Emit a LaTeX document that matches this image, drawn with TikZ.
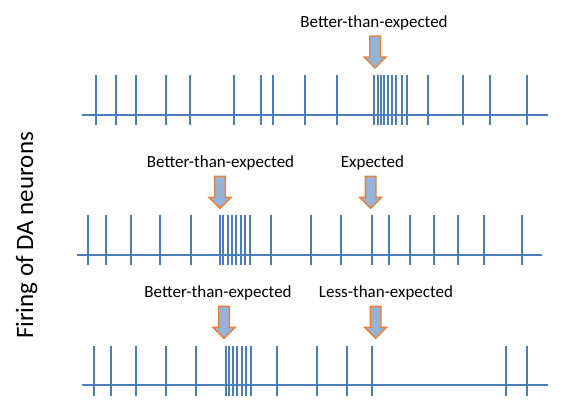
\documentclass[tikz,border=0pt]{standalone}
\usepackage{fontspec}
\setmainfont{Carlito}
\definecolor{spikeblue}{HTML}{4A7EBB}
\definecolor{arrowfill}{HTML}{95B3D7}
\definecolor{arroworange}{HTML}{ED7D31}
\tikzset{
  axisline/.style={spikeblue, line width=2.6pt},
  spike/.style={spikeblue, line width=1.8pt},
  arrowshape/.style={fill=arrowfill, draw=arroworange, line width=1.4pt, line join=miter},
  lbl/.style={font=\fontsize{17}{20}\selectfont, anchor=base, inner sep=0pt},
  downarrow/.pic={\draw[arrowshape] (-5.3,-32) -- (5.3,-32) -- (5.3,-11) -- (11,-11) -- (0,0) -- (-11,-11) -- (-5.3,-11) -- cycle;}
}
\begin{document}
\begin{tikzpicture}[x=1pt,y=-1pt]
\useasboundingbox (0,0) rectangle (566,418);
% vertical label
\node[font=\fontsize{25}{30}\selectfont, rotate=90, anchor=base, inner sep=0pt] (ylabel) at (33,235.5) {Firing of DA neurons};
% Row 1
\coordinate (r1a) at (82,115); \coordinate (r1b) at (548,115);
\draw[axisline] (r1a) -- (r1b);
\foreach \x in {96,116,136,166,190,234,261,273,305,337,374,378,381,384,388,392,396,402,407,428,463,490,527}
  \draw[spike] (\x,75) -- (\x,125);
\node[lbl] (t1) at (374,27) {Better-than-expected};
\pic at (375,68) {downarrow};
% Row 2
\coordinate (r2a) at (77,255); \coordinate (r2b) at (542,255);
\draw[axisline] (r2a) -- (r2b);
\foreach \x in {88,106,131,160,191,220,223,228,232,236,241,245,250,271,311,341,372,389,410,434,458,484,522}
  \draw[spike] (\x,215) -- (\x,265);
\node[lbl] (t2) at (220.5,167.5) {Better-than-expected};
\node[lbl] (t3) at (372.5,167.5) {Expected};
\pic at (220,208.3) {downarrow};
\pic at (370.7,208.3) {downarrow};
% Row 3
\coordinate (r3a) at (82,385); \coordinate (r3b) at (548,385);
\draw[axisline] (r3a) -- (r3b);
\foreach \x in {94,111,136,166,196,226,229,233,237,242,246,251,277,317,347,372,506,527}
  \draw[spike] (\x,346) -- (\x,396);
\node[lbl] (t4) at (218,297.5) {Better-than-expected};
\node[lbl] (t5) at (386,297.5) {Less-than-expected};
\pic at (224,338.3) {downarrow};
\pic at (375.7,338.3) {downarrow};
\end{tikzpicture}
\end{document}
